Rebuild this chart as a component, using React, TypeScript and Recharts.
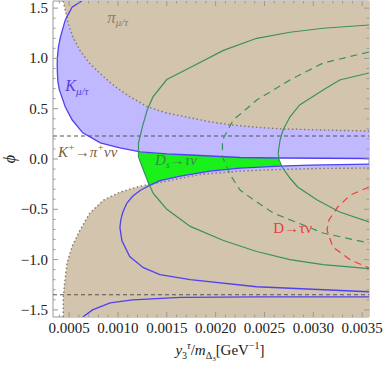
import React from 'react';
import { ComposedChart, Scatter, XAxis, YAxis, ReferenceArea } from 'recharts';

type Pt = [number, number];

const X_MIN = 0.000335;
const X_MAX = 0.00357;
const PHI = 1.5708;

const X_MAJOR = [0.0005, 0.001, 0.0015, 0.002, 0.0025, 0.003, 0.0035];
const X_TICKS = [
  0.0004, 0.0005, 0.0006, 0.0007, 0.0008, 0.0009, 0.001, 0.0011, 0.0012, 0.0013, 0.0014,
  0.0015, 0.0016, 0.0017, 0.0018, 0.0019, 0.002, 0.0021, 0.0022, 0.0023, 0.0024, 0.0025,
  0.0026, 0.0027, 0.0028, 0.0029, 0.003, 0.0031, 0.0032, 0.0033, 0.0034, 0.0035,
];
const Y_MAJOR = [-1.5, -1, -0.5, 0, 0.5, 1, 1.5];
const Y_TICKS = [
  -1.5, -1.4, -1.3, -1.2, -1.1, -1, -0.9, -0.8, -0.7, -0.6, -0.5, -0.4, -0.3, -0.2, -0.1, 0,
  0.1, 0.2, 0.3, 0.4, 0.5, 0.6, 0.7, 0.8, 0.9, 1, 1.1, 1.2, 1.3, 1.4, 1.5,
];

// K_{mu/tau} boundary, upper branch (comes down from the top, turns, runs out to the right)
const BLUE_UP: Pt[] = [
  [0.00063, 1.5708], [0.00053, 1.51], [0.00046, 1.38], [0.00041, 1.21], [0.00039, 1.11],
  [0.00038, 1.01], [0.000378, 0.94], [0.00038, 0.86], [0.000385, 0.77], [0.0004, 0.69],
  [0.00046, 0.52], [0.00053, 0.39], [0.00064, 0.26], [0.00082, 0.16], [0.00102, 0.11],
  [0.00123, 0.07], [0.0015, 0.05], [0.00174, 0.04], [0.00225, 0.015], [0.00266, 0.01],
  [0.00357, 0.005],
];
// K_{mu/tau} boundary, the C-shaped lower curve
const BLUE_C: Pt[] = [
  [0.00357, -0.05], [0.00297, -0.06], [0.00266, -0.07], [0.00225, -0.09], [0.00194, -0.12],
  [0.00164, -0.17], [0.00143, -0.215], [0.00133, -0.26], [0.00123, -0.31], [0.00115, -0.37],
  [0.00109, -0.44], [0.00105, -0.53], [0.00103, -0.6], [0.00102, -0.68], [0.00104, -0.81],
  [0.00112, -0.97], [0.00126, -1.08], [0.00143, -1.15], [0.00174, -1.2], [0.00242, -1.27],
  [0.00357, -1.32],
];
const BLUE_LOW: Pt[] = [
  [0.00064, -1.5708], [0.00074, -1.5], [0.00092, -1.43], [0.00115, -1.4], [0.00164, -1.375],
  [0.00245, -1.37], [0.00357, -1.37],
];

// pi_{mu/tau} excluded-region edges
const TAN_UP: Pt[] = [
  [0.00044, 1.5708], [0.00046, 1.48], [0.00049, 1.35], [0.00054, 1.21], [0.00061, 1.08],
  [0.00071, 0.95], [0.00084, 0.83], [0.00097, 0.72], [0.00112, 0.62], [0.0013, 0.52],
  [0.0015, 0.457], [0.00174, 0.41], [0.00194, 0.37], [0.00215, 0.34], [0.00242, 0.315],
  [0.00266, 0.3], [0.0031, 0.288], [0.00357, 0.278],
];
const TAN_LOW: Pt[] = [
  [0.00044, -1.5708], [0.00044, -1.4], [0.00045, -1.27], [0.00048, -1.03], [0.00053, -0.87],
  [0.00061, -0.71], [0.00071, -0.54], [0.00085, -0.41], [0.00102, -0.33], [0.00119, -0.28],
  [0.00133, -0.25], [0.0015, -0.22], [0.00184, -0.154], [0.00225, -0.12], [0.00266, -0.104],
  [0.00307, -0.094], [0.00357, -0.09],
];

// D_s -> tau nu allowed strip between the K curves
const DS_FILL: Pt[] = [
  [0.00121, 0.07], [0.00143, 0.055], [0.00174, 0.04], [0.00225, 0.015], [0.00265, 0.01],
  [0.00265, -0.03], [0.00268, -0.07], [0.00225, -0.09], [0.00194, -0.12], [0.00164, -0.17],
  [0.00143, -0.215], [0.00131, -0.265], [0.0013, -0.21], [0.00126, -0.11], [0.00122, 0.0],
];
const DS_OUTER: Pt[] = [
  [0.00357, 1.332], [0.0031, 1.3], [0.00276, 1.26], [0.00242, 1.2], [0.00208, 1.08],
  [0.00174, 0.91], [0.0015, 0.79], [0.00136, 0.62], [0.0013, 0.49], [0.00125, 0.32],
  [0.00121, 0.16], [0.00121, 0.02], [0.00126, -0.11], [0.0013, -0.21], [0.00136, -0.34],
  [0.00143, -0.42], [0.0015, -0.5], [0.00164, -0.6], [0.00174, -0.67], [0.00208, -0.81],
  [0.00242, -0.92], [0.00276, -1.0], [0.0031, -1.05], [0.00357, -1.09],
];
const DS_MID: Pt[] = [
  [0.00357, 1.064], [0.0031, 0.954], [0.00276, 0.785], [0.00242, 0.586], [0.00218, 0.388],
  [0.00207, 0.189], [0.00207, 0.02], [0.00215, -0.159], [0.00225, -0.308], [0.00239, -0.408],
  [0.00259, -0.537], [0.0031, -0.736], [0.00357, -0.835],
];
const DS_INNER: Pt[] = [
  [0.00357, 0.855], [0.00327, 0.785], [0.0031, 0.686], [0.00286, 0.537], [0.00276, 0.417],
  [0.00269, 0.288], [0.00266, 0.189], [0.00264, 0.06], [0.00265, -0.01], [0.00268, -0.08],
  [0.00276, -0.189], [0.00284, -0.278], [0.00304, -0.408], [0.00327, -0.527], [0.00357, -0.626],
];
const D_RED: Pt[] = [
  [0.00357, -0.278], [0.00338, -0.358], [0.00325, -0.477], [0.00316, -0.606], [0.00314, -0.706],
  [0.0032, -0.875], [0.00338, -1.004], [0.00357, -1.083],
];

// K+ -> pi+ nu nu bounds
const KPI_UP: Pt[] = [[X_MIN, 0.228], [X_MAX, 0.228]];
const KPI_LOW: Pt[] = [[X_MIN, -1.35], [X_MAX, -1.35]];

// text anchors (data units)
const PI_AT: Pt = [0.00089, 1.35];
const K_AT: Pt = [0.00046, 0.68];
const KPI_AT: Pt = [0.000386, 0.02];
const DS_AT: Pt = [0.00138, -0.06];
const D_AT: Pt = [0.00259, -0.735];

const TAN = '#D3C5AD';
const LAV = '#C0B9FF';
const GREEN_FILL = '#1AF01A';
const BLUE = '#5040F2';
const GREEN = '#3A9060';
const RED = '#EE3A3A';
const DOT = '#86766A';
const DASH = '#555555';
const FRAME = '#999999';
const SERIF = "'Liberation Serif', 'Times New Roman', serif";

const PLOT_W = 316;
const PLOT_H = 316;

const toData = (pts: Pt[]) => pts.map(([x, y]) => ({ x, y }));
const noDot = () => null;

function XTick(props: any) {
  const { x, y, payload } = props;
  const v = payload.value as number;
  const major = X_MAJOR.some((m) => Math.abs(m - v) < 1e-8);
  const len = major ? 5 : 2.5;
  return (
    <g>
      <line x1={x} y1={y} x2={x} y2={y - len} stroke={FRAME} />
      <line x1={x} y1={y - PLOT_H} x2={x} y2={y - PLOT_H + len} stroke={FRAME} />
      {major && (
        <text x={x} y={y + 16} textAnchor="middle" fontSize={15} fontFamily={SERIF} fill="#222">
          {v.toFixed(4)}
        </text>
      )}
    </g>
  );
}

function YTick(props: any) {
  const { x, y, payload } = props;
  const v = payload.value as number;
  const major = Y_MAJOR.some((m) => Math.abs(m - v) < 1e-8);
  const len = major ? 5 : 2.5;
  return (
    <g>
      <line x1={x} y1={y} x2={x + len} y2={y} stroke={FRAME} />
      <line x1={x + PLOT_W} y1={y} x2={x + PLOT_W - len} y2={y} stroke={FRAME} />
      {major && (
        <text x={x - 5} y={y + 5} textAnchor="end" fontSize={15} fontFamily={SERIF} fill="#222">
          {v.toFixed(1).replace('-', '\u2212')}
        </text>
      )}
    </g>
  );
}

function XLabel(props: any) {
  const vb = props.viewBox ?? { x: 53, y: 317, width: 316 };
  return (
    <text x={vb.x + vb.width / 2 + 9} y={vb.y + 38} textAnchor="middle" fontSize={15} fontFamily={SERIF} fill="#222">
      <tspan fontStyle="italic">y</tspan>
      <tspan fontSize={10} dy={4}>3</tspan>
      <tspan fontSize={10} fontStyle="italic" dy={-10}>τ</tspan>
      <tspan dy={6}>/</tspan>
      <tspan fontStyle="italic">m</tspan>
      <tspan fontSize={10} dy={4}>Δ</tspan>
      <tspan fontSize={7} dy={2}>3</tspan>
      <tspan dy={-6}>[GeV</tspan>
      <tspan fontSize={10} dy={-6}>−1</tspan>
      <tspan dy={6}>]</tspan>
    </text>
  );
}

function YLabel(props: any) {
  const vb = props.viewBox ?? { x: 0, y: 1, height: 316 };
  const cx = vb.x + 10;
  const cy = vb.y + vb.height / 2;
  return (
    <text x={cx} y={cy} transform={`rotate(-90 ${cx} ${cy})`} textAnchor="middle" dy={5} fontSize={16} fontStyle="italic" fontFamily={SERIF} fill="#222">
      ϕ
    </text>
  );
}

export default function App() {
  return (
    <div style={{ position: 'absolute', left: 0, top: 0, width: 383, height: 366, background: '#fff' }}>
      <ComposedChart width={383} height={366} margin={{ top: 1, right: 14, bottom: 0, left: 0 }}>
        <XAxis
          dataKey="x"
          type="number"
          domain={[X_MIN, X_MAX]}
          allowDataOverflow
          ticks={X_TICKS}
          interval={0}
          tick={XTick}
          tickLine={false}
          axisLine={false}
          tickSize={0}
          tickMargin={0}
          height={49}
          label={XLabel}
        />
        <YAxis
          dataKey="y"
          type="number"
          domain={[-PHI, PHI]}
          allowDataOverflow
          ticks={Y_TICKS}
          interval={0}
          tick={YTick}
          tickLine={false}
          axisLine={false}
          tickSize={0}
          tickMargin={0}
          width={53}
          label={YLabel}
        />

        {/* filled regions */}
        <Scatter data={toData([...BLUE_UP, [X_MAX, PHI]])} line={{ fill: LAV, stroke: 'none' }} shape={noDot} isAnimationActive={false} />
        <Scatter data={toData(BLUE_C)} line={{ fill: LAV, stroke: 'none' }} shape={noDot} isAnimationActive={false} />
        <Scatter data={toData([...TAN_UP, [X_MAX, PHI]])} line={{ fill: TAN, stroke: 'none' }} shape={noDot} isAnimationActive={false} />
        <Scatter data={toData([...TAN_LOW, [X_MAX, -PHI]])} line={{ fill: TAN, stroke: 'none' }} shape={noDot} isAnimationActive={false} />
        <Scatter data={toData(DS_FILL)} line={{ fill: GREEN_FILL, stroke: 'none' }} shape={noDot} isAnimationActive={false} />

        {/* region edges */}
        <Scatter data={toData(TAN_UP)} line={{ fill: 'none', stroke: DOT, strokeWidth: 1.4, strokeDasharray: '1.5 2.5' }} shape={noDot} isAnimationActive={false} />
        <Scatter data={toData(TAN_LOW)} line={{ fill: 'none', stroke: DOT, strokeWidth: 1.4, strokeDasharray: '1.5 2.5' }} shape={noDot} isAnimationActive={false} />
        <Scatter data={toData(KPI_UP)} line={{ fill: 'none', stroke: DASH, strokeWidth: 1.1, strokeDasharray: '4 3' }} shape={noDot} isAnimationActive={false} />
        <Scatter data={toData(KPI_LOW)} line={{ fill: 'none', stroke: DASH, strokeWidth: 1.1, strokeDasharray: '4 3' }} shape={noDot} isAnimationActive={false} />
        <Scatter data={toData(BLUE_UP)} line={{ fill: 'none', stroke: BLUE, strokeWidth: 1.3 }} shape={noDot} isAnimationActive={false} />
        <Scatter data={toData(BLUE_C)} line={{ fill: 'none', stroke: BLUE, strokeWidth: 1.3 }} shape={noDot} isAnimationActive={false} />
        <Scatter data={toData(BLUE_LOW)} line={{ fill: 'none', stroke: BLUE, strokeWidth: 1.3 }} shape={noDot} isAnimationActive={false} />
        <Scatter data={toData(DS_OUTER)} line={{ fill: 'none', stroke: GREEN, strokeWidth: 1.2 }} shape={noDot} isAnimationActive={false} />
        <Scatter data={toData(DS_MID)} line={{ fill: 'none', stroke: GREEN, strokeWidth: 1.2, strokeDasharray: '7 5' }} shape={noDot} isAnimationActive={false} />
        <Scatter data={toData(DS_INNER)} line={{ fill: 'none', stroke: GREEN, strokeWidth: 1.2 }} shape={noDot} isAnimationActive={false} />
        <Scatter data={toData(D_RED)} line={{ fill: 'none', stroke: RED, strokeWidth: 1.2, strokeDasharray: '7 5' }} shape={noDot} isAnimationActive={false} />

        {/* annotations */}
        <Scatter
          data={toData([PI_AT])}
          isAnimationActive={false}
          shape={(p: any) => (
            <text x={p.cx} y={p.cy} fontSize={17} fontStyle="italic" fontFamily={SERIF} fill="#8E7E68">
              π<tspan fontSize={11} dy={3}>μ/τ</tspan>
            </text>
          )}
        />
        <Scatter
          data={toData([K_AT])}
          isAnimationActive={false}
          shape={(p: any) => (
            <text x={p.cx} y={p.cy} fontSize={16} fontStyle="italic" fontFamily={SERIF} fill="#5740E6">
              K<tspan fontSize={11} dy={4}>μ/τ</tspan>
            </text>
          )}
        />
        <Scatter
          data={toData([KPI_AT])}
          isAnimationActive={false}
          shape={(p: any) => (
            <text x={p.cx} y={p.cy} fontSize={15} fontStyle="italic" fontFamily={SERIF} fill="#7A5C3E">
              K<tspan fontSize={10} dy={-6}>+</tspan>
              <tspan dy={6}>→π</tspan>
              <tspan fontSize={10} dy={-6}>+</tspan>
              <tspan dy={6}>νν</tspan>
            </text>
          )}
        />
        <Scatter
          data={toData([DS_AT])}
          isAnimationActive={false}
          shape={(p: any) => (
            <text x={p.cx} y={p.cy} fontSize={15} fontStyle="italic" fontFamily={SERIF} fill="#3A8A50">
              D<tspan fontSize={10} dy={3}>s</tspan>
              <tspan dy={-3}>→τν</tspan>
            </text>
          )}
        />
        <Scatter
          data={toData([D_AT])}
          isAnimationActive={false}
          shape={(p: any) => (
            <text x={p.cx} y={p.cy} fontSize={15} fontFamily={SERIF} fill="#E83C3C">
              D→τν
            </text>
          )}
        />

        <ReferenceArea x1={X_MIN} x2={X_MAX} y1={-PHI} y2={PHI} fill="none" stroke={FRAME} strokeWidth={1} ifOverflow="visible" />
      </ComposedChart>
    </div>
  );
}
